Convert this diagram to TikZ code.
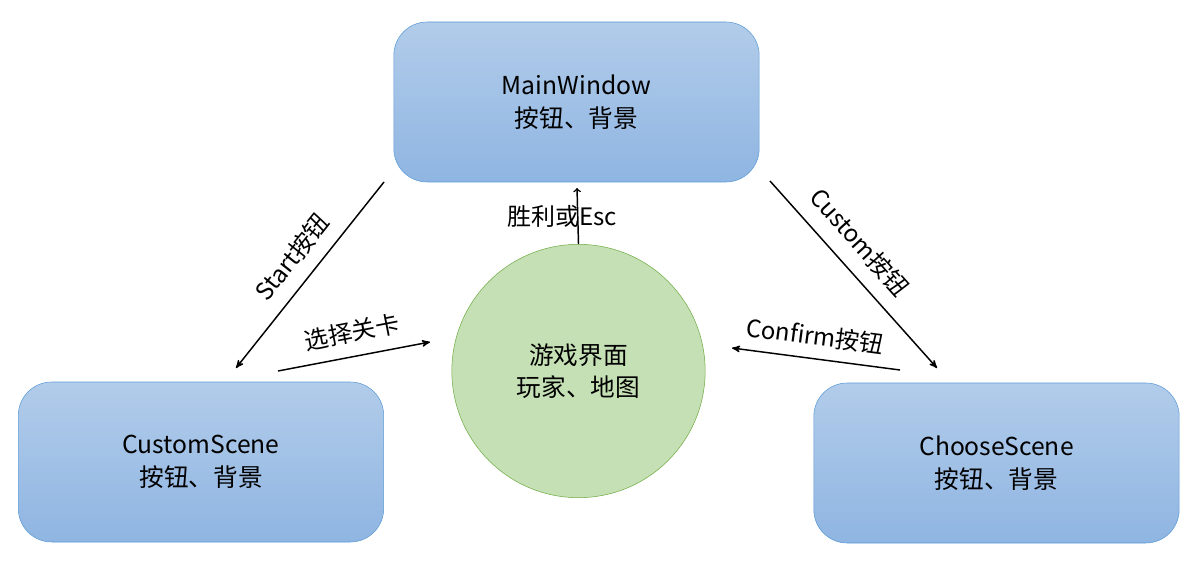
\documentclass[tikz,border=0pt]{standalone}
\usepackage{fontspec}
\setmainfont{Noto Sans CJK SC}
\usetikzlibrary{arrows}
\definecolor{boxtop}{RGB}{178,204,234}
\definecolor{boxbot}{RGB}{143,181,226}
\definecolor{boxline}{RGB}{91,155,213}
\definecolor{gamefill}{RGB}{197,224,180}
\definecolor{gameline}{RGB}{112,173,71}
\tikzset{
    scenebox/.style={draw=boxline, top color=boxtop, bottom color=boxbot,
        rounded corners=25pt, minimum width=274pt, minimum height=120pt,
        align=center, font=\fontsize{18.5pt}{25pt}\selectfont},
    gamecircle/.style={circle, draw=gameline, fill=gamefill, minimum size=190pt,
        align=center, font=\fontsize{18.5pt}{24pt}\selectfont},
    lbl/.style={font=\fontsize{18pt}{22pt}\selectfont, inner sep=0pt},
    arr/.style={-stealth', line width=1.1pt}
}
\begin{document}
\begin{tikzpicture}[x=0.75pt,y=-0.75pt]
\useasboundingbox (0,0) rectangle (1203,577);
% scenes
\node[scenebox] (main) at (576.5,102) {MainWindow\\按钮、背景};
\node[scenebox] (custom) at (201,462) {CustomScene\\按钮、背景};
\node[scenebox] (choose) at (996.5,463) {ChooseScene\\按钮、背景};
\node[gamecircle] (game) at (578.5,371) {游戏界面\\玩家、地图};
% arrow ends
\coordinate (m1) at (384,182);
\coordinate (c1) at (236,368);
\coordinate (c2) at (278,371);
\coordinate (g1) at (430,342);
\coordinate (m2) at (770,181);
\coordinate (h1) at (937,368);
\coordinate (h2) at (900,370);
\coordinate (g2) at (732,348);
\coordinate (m3) at (577,188);
% arrows
\draw[arr] (m1) -- (c1);
\draw[arr] (c2) -- (g1);
\draw[arr] (m2) -- (h1);
\draw[arr] (h2) -- (g2);
\draw[-to, line width=1.1pt] (game.north) -- (m3);
% labels
\node[lbl, rotate=51.5] (startlbl) at (292,257) {Start按钮};
\node[lbl, rotate=11] (pick) at (352,332) {选择关卡};
\node[lbl, rotate=-48] (customlbl) at (860,242) {Custom按钮};
\node[lbl, rotate=-7.5] (confirm) at (815,336) {Confirm按钮};
\node[lbl] (win) at (562,216) {胜利或Esc};
\end{tikzpicture}
\end{document}
